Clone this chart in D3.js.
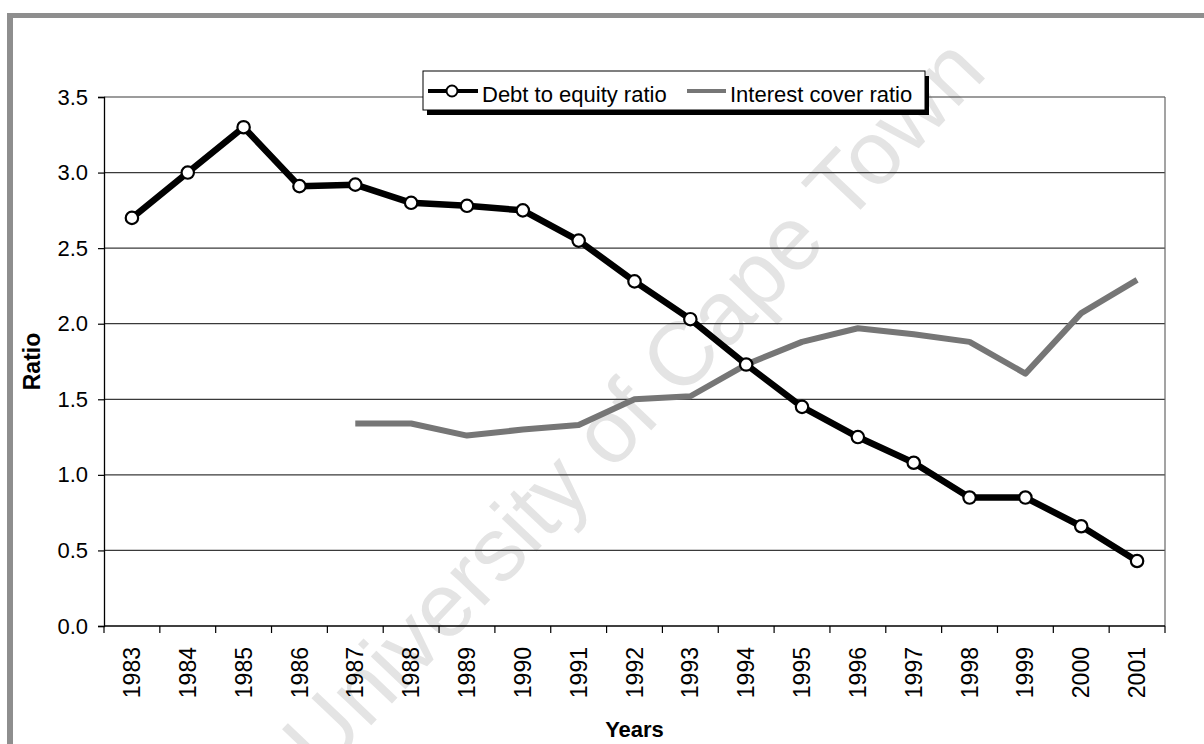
<!DOCTYPE html>
<html>
<head>
<meta charset="utf-8">
<script src="https://cdn.jsdelivr.net/npm/d3@7/dist/d3.min.js"></script>
<style>
  html, body { margin: 0; padding: 0; background: #fff; }
  svg { display: block; font-family: "Liberation Sans", Arial, sans-serif; }
</style>
</head>
<body>
<svg id="chart" width="1204" height="744"></svg>
<script>
// Years on the category axis
const years = ["1983","1984","1985","1986","1987","1988","1989","1990","1991","1992",
               "1993","1994","1995","1996","1997","1998","1999","2000","2001"];

// Debt to equity ratio, one value per year
const debtEquity = [2.70, 3.00, 3.30, 2.91, 2.92, 2.80, 2.78, 2.75, 2.55, 2.28,
                    2.03, 1.73, 1.45, 1.25, 1.08, 0.85, 0.85, 0.66, 0.43];

// Interest cover ratio, reported from 1987 onward
const interestYears = ["1987","1988","1989","1990","1991","1992","1993","1994",
                       "1995","1996","1997","1998","1999","2000","2001"];
const interestCover = [1.34, 1.34, 1.26, 1.30, 1.33, 1.50, 1.52, 1.73,
                       1.88, 1.97, 1.93, 1.88, 1.67, 2.07, 2.29];

const yTicks = [0, 0.5, 1.0, 1.5, 2.0, 2.5, 3.0, 3.5];
const seriesNames = ["Debt to equity ratio", "Interest cover ratio"];

const svg = d3.select("#chart");
const plot = { left: 104, right: 1165, top: 97, bottom: 626 };

const x = d3.scaleBand().domain(years).range([plot.left, plot.right]).padding(0);
const y = d3.scaleLinear().domain([0, 3.5]).range([plot.bottom, plot.top]);
const cx = d => x(d) + x.bandwidth() / 2;

// Outer frame (grey bands at top and left)
svg.append("rect").attr("x", 7).attr("y", 13).attr("width", 1197).attr("height", 5).attr("fill", "#8e8e8e");
svg.append("rect").attr("x", 7).attr("y", 13).attr("width", 6).attr("height", 731).attr("fill", "#8e8e8e");

// Faint diagonal watermark
svg.append("text")
  .attr("transform", "translate(636,407) rotate(-46.5)")
  .attr("text-anchor", "middle")
  .attr("dy", "0.3em")
  .attr("font-size", 90)
  .attr("fill", "#e4e4e4")
  .text("University of Cape Town");

// Horizontal gridlines
svg.append("g").selectAll("line").data(yTicks.filter(v => v > 0)).join("line")
  .attr("x1", plot.left).attr("x2", plot.right)
  .attr("y1", d => y(d)).attr("y2", d => y(d))
  .attr("stroke", "#3a3a3a").attr("stroke-width", 1.2);

// Right edge of the plot area
svg.append("line")
  .attr("x1", plot.right).attr("x2", plot.right)
  .attr("y1", plot.top).attr("y2", plot.bottom)
  .attr("stroke", "#666").attr("stroke-width", 1.2);

// Y axis
const yAxis = d3.axisLeft(y).tickValues(yTicks).tickFormat(d3.format(".1f"))
  .tickSize(6).tickPadding(10);
const gy = svg.append("g").attr("transform", `translate(${plot.left},0)`).call(yAxis);
gy.select(".domain").attr("stroke", "#000").attr("stroke-width", 1.3);
gy.selectAll(".tick line").attr("stroke", "#000").attr("stroke-width", 1.2);
gy.selectAll(".tick text").attr("font-size", 22).attr("fill", "#000")
  .attr("font-family", "'Liberation Sans', Arial, sans-serif");

// X axis line and tick marks at category boundaries
svg.append("line")
  .attr("x1", plot.left).attr("x2", plot.right)
  .attr("y1", plot.bottom).attr("y2", plot.bottom)
  .attr("stroke", "#000").attr("stroke-width", 1.3);
const boundaries = years.map(d => x(d)).concat([plot.right]);
svg.append("g").selectAll("line").data(boundaries).join("line")
  .attr("x1", d => d).attr("x2", d => d)
  .attr("y1", plot.bottom).attr("y2", plot.bottom + 7)
  .attr("stroke", "#000").attr("stroke-width", 1.2);

// Rotated year labels
svg.append("g").selectAll("text").data(years).join("text")
  .attr("transform", d => `translate(${cx(d)},${plot.bottom + 21}) rotate(-90)`)
  .attr("text-anchor", "end")
  .attr("dy", "0.35em")
  .attr("font-size", 23)
  .attr("fill", "#000")
  .text(d => d);

// Axis titles
svg.append("text")
  .attr("x", (plot.left + plot.right) / 2).attr("y", 737)
  .attr("text-anchor", "middle")
  .attr("font-size", 22).attr("font-weight", "bold")
  .text("Years");
svg.append("text")
  .attr("transform", `translate(40,${(plot.top + plot.bottom) / 2}) rotate(-90)`)
  .attr("text-anchor", "middle")
  .attr("font-size", 23).attr("font-weight", "bold")
  .text("Ratio");

// Interest cover line
const interestData = interestYears.map((d, i) => ({ year: d, value: interestCover[i] }));
svg.append("path")
  .datum(interestData)
  .attr("fill", "none")
  .attr("stroke", "#767676")
  .attr("stroke-width", 6)
  .attr("stroke-linejoin", "round")
  .attr("d", d3.line().x(d => cx(d.year)).y(d => y(d.value)));

// Debt to equity line with open circle markers
const debtData = years.map((d, i) => ({ year: d, value: debtEquity[i] }));
svg.append("path")
  .datum(debtData)
  .attr("fill", "none")
  .attr("stroke", "#000")
  .attr("stroke-width", 6.5)
  .attr("stroke-linejoin", "round")
  .attr("d", d3.line().x(d => cx(d.year)).y(d => y(d.value)));
svg.append("g").selectAll("circle").data(debtData).join("circle")
  .attr("cx", d => cx(d.year)).attr("cy", d => y(d.value))
  .attr("r", 6.2)
  .attr("fill", "#fff").attr("stroke", "#000").attr("stroke-width", 2.2);

// Legend box with drop shadow
const lg = svg.append("g");
lg.append("rect").attr("x", 427).attr("y", 76).attr("width", 502).attr("height", 39).attr("fill", "#000");
lg.append("rect").attr("x", 423).attr("y", 71).attr("width", 502).attr("height", 39)
  .attr("fill", "#fff").attr("stroke", "#000").attr("stroke-width", 1);
lg.append("line").attr("x1", 428).attr("x2", 478).attr("y1", 91).attr("y2", 91)
  .attr("stroke", "#000").attr("stroke-width", 4);
lg.append("circle").attr("cx", 452).attr("cy", 91).attr("r", 5.5)
  .attr("fill", "#fff").attr("stroke", "#000").attr("stroke-width", 2);
lg.append("text").attr("x", 482).attr("y", 102).attr("font-size", 22).text(seriesNames[0]);
lg.append("line").attr("x1", 687).attr("x2", 726).attr("y1", 91).attr("y2", 91)
  .attr("stroke", "#767676").attr("stroke-width", 4);
lg.append("text").attr("x", 730).attr("y", 102).attr("font-size", 22).text(seriesNames[1]);
</script>
</body>
</html>
